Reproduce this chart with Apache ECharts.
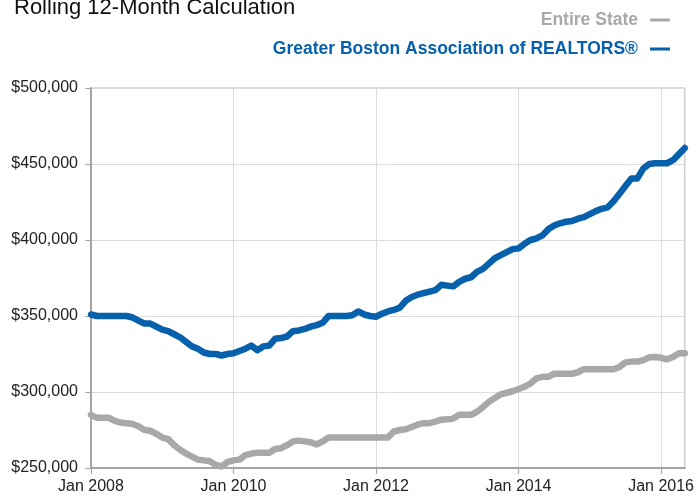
<!DOCTYPE html>
<html>
<head>
<meta charset="utf-8">
<script src="https://cdn.jsdelivr.net/npm/echarts@6/dist/echarts.min.js"></script>
<style>
html,body{margin:0;padding:0;background:#fff;}
#chart{width:697px;height:496px;}
</style>
</head>
<body>
<div id="chart"></div>
<script>
// Monthly data, Jan 2008 - May 2016 (rolling 12-month median sales price)
const monthNames = ['Jan','Feb','Mar','Apr','May','Jun','Jul','Aug','Sep','Oct','Nov','Dec'];
const startYear = 2008;
const monthCount = 101;

const entireState = [
  285000, 283000, 283000, 283000, 281000, 279900, 279500, 279000, 277500, 275000,
  274500, 272500, 270000, 269000, 265000, 262000, 259500, 257500, 255500, 255000,
  254500, 252000, 251000, 254000, 255000, 255500, 258500, 259500, 260000, 260000,
  260000, 262500, 263000, 265000, 267500, 268000, 267500, 267000, 265500, 267500,
  270000, 270000, 270000, 270000, 270000, 270000, 270000, 270000, 270000, 270000,
  270000, 274000, 275000, 275500, 277000, 278500, 279500, 279500, 280500, 281800,
  282000, 282500, 285000, 285000, 285000, 287000, 290000, 293500, 296000, 298500,
  299500, 300500, 302000, 303500, 305500, 309000, 310000, 310000, 312000, 312000,
  312000, 312000, 313000, 315000, 315000, 315000, 315000, 315000, 315000, 316500,
  319500, 320000, 320000, 321000, 322800, 323000, 322500, 321500, 323000, 325500,
  325500
];

const greaterBoston = [
  351000, 350000, 350000, 350000, 350000, 350000, 350000, 349000, 347000, 345000,
  345000, 343000, 341000, 340000, 338000, 336000, 333000, 330000, 328500, 326000,
  325000, 325000, 324000, 325000, 325500, 327000, 328500, 330500, 327500, 330000,
  330500, 335000, 335500, 336500, 340000, 340500, 341500, 343000, 344000, 345500,
  350000, 350000, 350000, 350000, 350500, 353000, 351000, 350000, 349500, 351500,
  353000, 354000, 355500, 360000, 362500, 364000, 365000, 366000, 367000, 370500,
  370000, 369500, 372500, 374500, 375500, 379000, 381000, 384500, 388000, 390000,
  392000, 394000, 394500, 397500, 400000, 401000, 403000, 407000, 409500, 411000,
  412000, 412500, 414000, 415000, 417000, 419000, 420500, 421500, 425500, 430500,
  435500, 440500, 440500, 447000, 450000, 450500, 450500, 450500, 452500, 456500,
  460500
];

const seriesNames = ['Entire State', 'Greater Boston Association of REALTORS®'];
const yTicks = [250000, 300000, 350000, 400000, 450000, 500000];

const categories = [];
for (let i = 0; i < monthCount; i++) {
  categories.push(monthNames[i % 12] + ' ' + (startYear + Math.floor(i / 12)));
}

const GRAY = '#A8A8A8';
const BLUE = '#0760AB';
const labelFont = 'Liberation Sans, Arial, sans-serif';
const legendFont = 'Liberation Sans, Arial, sans-serif';
const everyTwoYears = (idx) => idx % 24 === 0;

const chart = echarts.init(document.getElementById('chart'), null, {renderer: 'canvas'});
chart.setOption({
  animation: false,
  backgroundColor: '#fff',
  title: {
    text: 'Rolling 12-Month Calculation',
    left: 14,
    top: -3,
    padding: 0,
    textStyle: {fontFamily: labelFont, fontSize: 22, fontWeight: 'normal', color: '#111'}
  },
  legend: {
    orient: 'vertical',
    align: 'right',
    right: 27,
    top: 11,
    padding: 0,
    itemGap: 11,
    itemWidth: 20,
    itemHeight: 3,
    icon: 'rect',
    data: [
      {name: seriesNames[0], textStyle: {color: GRAY}},
      {name: seriesNames[1], textStyle: {color: BLUE}}
    ],
    textStyle: {fontFamily: legendFont, fontSize: 17.5, fontWeight: 'bold', padding: [0, 7, 0, 0]}
  },
  grid: {
    left: 91, right: 9, top: 88, bottom: 28,
    show: true, borderColor: '#B5B5B5', borderWidth: 1,
    containLabel: false
  },
  xAxis: {
    type: 'category',
    data: categories,
    boundaryGap: false,
    axisLine: {show: true, lineStyle: {color: '#A5A5A5', width: 2}},
    axisTick: {show: true, interval: (i) => everyTwoYears(i), length: 6, lineStyle: {color: '#A5A5A5', width: 1}},
    axisLabel: {
      interval: (i) => everyTwoYears(i),
      margin: 11,
      fontFamily: labelFont, fontSize: 16, color: '#222'
    },
    splitLine: {show: true, interval: (i) => everyTwoYears(i), lineStyle: {color: '#DDDDDD', width: 1}}
  },
  yAxis: {
    type: 'value',
    min: yTicks[0],
    max: yTicks[yTicks.length - 1],
    interval: 50000,
    axisLine: {show: true, lineStyle: {color: '#A5A5A5', width: 2}},
    axisTick: {show: true, length: 6, lineStyle: {color: '#A5A5A5', width: 1}},
    axisLabel: {
      margin: 13,
      fontFamily: labelFont, fontSize: 16, color: '#222',
      formatter: (v) => '$' + v.toLocaleString('en-US')
    },
    splitLine: {show: true, lineStyle: {color: '#DDDDDD', width: 1}}
  },
  series: [
    {
      name: seriesNames[0], type: 'line', data: entireState,
      showSymbol: false, symbol: 'none', color: GRAY,
      lineStyle: {color: GRAY, width: 6.5, join: 'round', cap: 'round'}
    },
    {
      name: seriesNames[1], type: 'line', data: greaterBoston,
      showSymbol: false, symbol: 'none', color: BLUE,
      lineStyle: {color: BLUE, width: 6.5, join: 'round', cap: 'round'}
    }
  ]
});
</script>
</body>
</html>
